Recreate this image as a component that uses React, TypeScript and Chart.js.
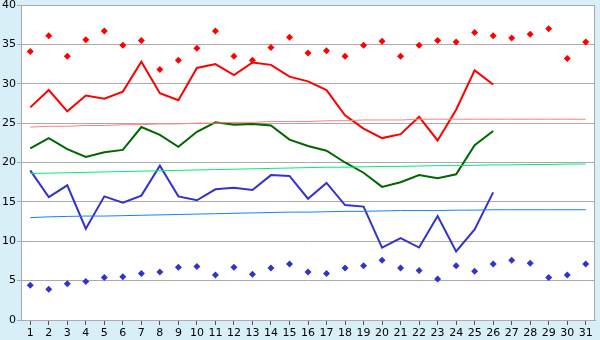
import React, { useEffect, useRef } from "react";
import { Chart, registerables } from "chart.js";

Chart.register(...registerables);

const days = Array.from({ length: 31 }, (_, i) => String(i + 1));

const maxTemp = [27.0, 29.2, 26.5, 28.5, 28.1, 29.0, 32.8, 28.8, 27.9, 32.0, 32.5, 31.1, 32.7, 32.4, 30.9, 30.3, 29.2, 26.0, 24.3, 23.1, 23.6, 25.8, 22.8, 26.7, 31.7, 29.9, null, null, null, null, null];
const meanTemp = [21.8, 23.1, 21.7, 20.7, 21.3, 21.6, 24.5, 23.5, 22.0, 23.9, 25.1, 24.8, 24.9, 24.7, 22.9, 22.1, 21.5, 20.0, 18.7, 16.9, 17.5, 18.4, 18.0, 18.5, 22.2, 24.0, null, null, null, null, null];
const minTemp = [19.0, 15.6, 17.1, 11.6, 15.7, 14.9, 15.8, 19.6, 15.7, 15.2, 16.6, 16.8, 16.5, 18.4, 18.3, 15.4, 17.4, 14.6, 14.4, 9.2, 10.4, 9.2, 13.2, 8.7, 11.5, 16.2, null, null, null, null, null];

const recordHigh = [34.1, 36.1, 33.5, 35.6, 36.7, 34.9, 35.5, 31.8, 33.0, 34.5, 36.7, 33.5, 33.0, 34.6, 35.9, 33.9, 34.2, 33.5, 34.9, 35.4, 33.5, 34.9, 35.5, 35.3, 36.5, 36.1, 35.8, 36.3, 37.0, 33.2, 35.3];
const recordLow = [4.4, 3.9, 4.6, 4.9, 5.4, 5.5, 5.9, 6.1, 6.7, 6.8, 5.7, 6.7, 5.8, 6.6, 7.1, 6.1, 5.9, 6.6, 6.9, 7.6, 6.6, 6.3, 5.2, 6.9, 6.2, 7.1, 7.6, 7.2, 5.4, 5.7, 7.1];

const normalMax = [24.5, 24.6, 24.6, 24.7, 24.7, 24.8, 24.8, 24.9, 24.9, 25.0, 25.0, 25.1, 25.1, 25.2, 25.2, 25.2, 25.3, 25.3, 25.4, 25.4, 25.4, 25.5, 25.5, 25.5, 25.5, 25.5, 25.5, 25.5, 25.5, 25.5, 25.5];
const normalMean = [18.6, 18.65, 18.7, 18.75, 18.8, 18.85, 18.9, 18.95, 19.0, 19.05, 19.1, 19.15, 19.2, 19.25, 19.3, 19.35, 19.4, 19.4, 19.45, 19.5, 19.5, 19.55, 19.6, 19.6, 19.65, 19.7, 19.7, 19.75, 19.75, 19.8, 19.8];
const normalMin = [13.0, 13.1, 13.15, 13.2, 13.2, 13.25, 13.3, 13.35, 13.4, 13.45, 13.5, 13.55, 13.6, 13.65, 13.7, 13.7, 13.75, 13.8, 13.8, 13.85, 13.9, 13.9, 13.9, 13.95, 13.95, 14.0, 14.0, 14.0, 14.0, 14.0, 14.0];

const yTicks = [0, 5, 10, 15, 20, 25, 30, 35, 40];

const bgPlugin = {
  id: "bgPlugin",
  beforeDraw(chart: any) {
    const { ctx, chartArea } = chart;
    ctx.save();
    ctx.fillStyle = "#d9eff7";
    ctx.fillRect(0, 0, chart.width, chart.height);
    ctx.fillStyle = "#ffffff";
    ctx.fillRect(chartArea.left, chartArea.top, chartArea.right - chartArea.left, chartArea.bottom - chartArea.top);
    ctx.restore();
  },
  afterDraw(chart: any) {
    const { ctx, chartArea } = chart;
    ctx.save();
    ctx.strokeStyle = "#aaaaaa";
    ctx.lineWidth = 1;
    ctx.beginPath();
    ctx.moveTo(chartArea.left, chartArea.top + 0.5);
    ctx.lineTo(chartArea.right - 0.5, chartArea.top + 0.5);
    ctx.lineTo(chartArea.right - 0.5, chartArea.bottom);
    ctx.stroke();
    ctx.restore();
  },
};

export default function App() {
  const ref = useRef<HTMLCanvasElement>(null);

  useEffect(() => {
    document.body.style.margin = "0";
    if (!ref.current) return;
    const lineDs = (label: string, data: any[], color: string, width: number) => ({
      type: "line" as const,
      label,
      data,
      borderColor: color,
      backgroundColor: color,
      borderWidth: width,
      pointRadius: 0,
      tension: 0,
      spanGaps: false,
      fill: false,
    });
    const pointDs = (label: string, data: any[], color: string) => ({
      type: "line" as const,
      label,
      data,
      showLine: false,
      borderColor: color,
      backgroundColor: color,
      pointStyle: "rectRot",
      pointRadius: 3.5,
      pointBorderWidth: 0,
      fill: false,
    });
    const font = { family: "DejaVu Sans", size: 11 };
    const chart = new Chart(ref.current, {
      type: "line",
      data: {
        labels: days,
        datasets: [
          lineDs("Normal max", normalMax, "#ff8080", 1),
          lineDs("Normal mean", normalMean, "#00ee77", 1),
          lineDs("Normal min", normalMin, "#1a80ff", 1),
          lineDs("Max", maxTemp, "#ff0000", 2),
          lineDs("Mean", meanTemp, "#006600", 2),
          lineDs("Min", minTemp, "#3333cc", 2),
          pointDs("Record high", recordHigh, "#ff0000"),
          pointDs("Record low", recordLow, "#3333cc"),
        ] as any,
      },
      options: {
        animation: false,
        responsive: false,
        maintainAspectRatio: false,
        layout: { padding: { top: 5, right: 5, left: 0, bottom: 0 } },
        plugins: { legend: { display: false }, tooltip: { enabled: false } },
        scales: {
          x: {
            type: "category",
            offset: true,
            grid: { drawOnChartArea: false, drawTicks: true, tickLength: 5, offset: false, color: "#555555" },
            border: { color: "#aaaaaa" },
            ticks: { font, color: "#000000", padding: 2, maxRotation: 0, autoSkip: false },
            afterFit: (s: any) => {
              s.height = 20;
              s.paddingLeft = 0;
              s.paddingRight = 0;
            },
          },
          y: {
            min: 0,
            max: 40,
            afterBuildTicks: (s: any) => {
              s.ticks = yTicks.map((v) => ({ value: v }));
            },
            grid: { color: "#aaaaaa", tickLength: 4, drawTicks: true },
            border: { color: "#aaaaaa" },
            ticks: { font, color: "#000000", padding: 1 },
            afterFit: (s: any) => {
              s.width = 21;
              s.paddingTop = 0;
              s.paddingBottom = 0;
            },
          },
        },
      } as any,
      plugins: [bgPlugin],
    });
    return () => chart.destroy();
  }, []);

  return (
    <div style={{ position: "absolute", left: 0, top: 0, width: 600, height: 340 }}>
      <canvas ref={ref} width={600} height={340} style={{ width: 600, height: 340 }} />
    </div>
  );
}
